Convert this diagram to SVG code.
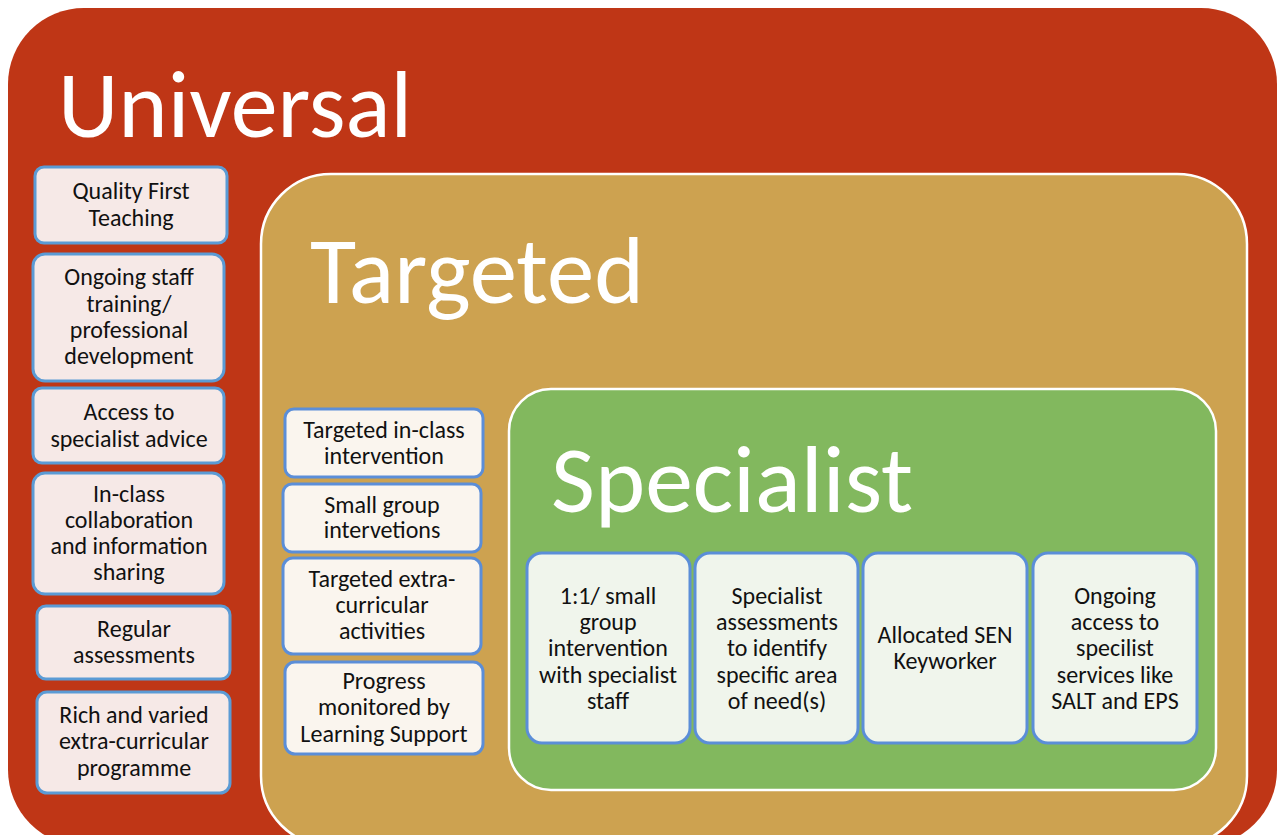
<svg xmlns="http://www.w3.org/2000/svg" width="1285" height="835" viewBox="0 0 1285 835">
  <style>
    .title { font-family: Carlito, Lato, "Open Sans", sans-serif; font-size: 94px; fill: #ffffff; }
    .lbl { font-family: Carlito, "Noto Sans", "Open Sans", sans-serif; font-size: 24px; fill: #111111; text-anchor: middle; }
    .ubox { fill: #F6E9E7; stroke: #5B9BD5; stroke-width: 3; }
    .tbox { fill: #FAF5EE; stroke: #5B8ED8; stroke-width: 3; }
    .sbox { fill: #F0F5EC; stroke: #5B8ED8; stroke-width: 3; }
  </style>

  <!-- Universal tier -->
  <g id="universal">
    <rect x="8" y="8" width="1269" height="838" rx="76" fill="#BF3616"/>
    <text class="title" x="58" y="137" textLength="354" lengthAdjust="spacingAndGlyphs">Universal</text>
  </g>

  <g id="u-quality-first">
    <rect class="ubox" x="35" y="167" width="192" height="76" rx="9"/>
    <text class="lbl"><tspan x="131" y="199">Quality First</tspan><tspan x="131" y="226">Teaching</tspan></text>
  </g>
  <g id="u-staff-training">
    <rect class="ubox" x="33" y="254" width="191" height="127" rx="12"/>
    <text class="lbl"><tspan x="129" y="285">Ongoing staff</tspan><tspan x="129" y="312">training/</tspan><tspan x="129" y="338">professional</tspan><tspan x="129" y="364">development</tspan></text>
  </g>
  <g id="u-specialist-advice">
    <rect class="ubox" x="33" y="388" width="191" height="75" rx="9"/>
    <text class="lbl"><tspan x="129" y="420">Access to</tspan><tspan x="129" y="447">specialist advice</tspan></text>
  </g>
  <g id="u-collaboration">
    <rect class="ubox" x="33" y="473" width="191" height="121" rx="12"/>
    <text class="lbl"><tspan x="129" y="502">In-class</tspan><tspan x="129" y="528">collaboration</tspan><tspan x="129" y="554">and information</tspan><tspan x="129" y="580">sharing</tspan></text>
  </g>
  <g id="u-assessments">
    <rect class="ubox" x="37" y="606" width="193" height="73" rx="9"/>
    <text class="lbl"><tspan x="134" y="637">Regular</tspan><tspan x="134" y="663">assessments</tspan></text>
  </g>
  <g id="u-extra-curricular">
    <rect class="ubox" x="37" y="692" width="193" height="101" rx="10"/>
    <text class="lbl"><tspan x="134" y="723">Rich and varied</tspan><tspan x="134" y="749">extra-curricular</tspan><tspan x="134" y="776">programme</tspan></text>
  </g>

  <!-- Targeted tier -->
  <g id="targeted">
    <rect x="261" y="174" width="986" height="672" rx="70" fill="#CDA250" stroke="#ffffff" stroke-width="2.5"/>
    <text class="title" x="310" y="303" textLength="334" lengthAdjust="spacingAndGlyphs">Targeted</text>
  </g>

  <g id="t-in-class">
    <rect class="tbox" x="285" y="409" width="198" height="68" rx="9"/>
    <text class="lbl"><tspan x="384" y="438">Targeted in-class</tspan><tspan x="384" y="464">intervention</tspan></text>
  </g>
  <g id="t-small-group">
    <rect class="tbox" x="283" y="484" width="198" height="68" rx="9"/>
    <text class="lbl"><tspan x="382" y="513">Small group</tspan><tspan x="382" y="538">intervetions</tspan></text>
  </g>
  <g id="t-activities">
    <rect class="tbox" x="283" y="558" width="198" height="96" rx="10"/>
    <text class="lbl"><tspan x="382" y="587">Targeted extra-</tspan><tspan x="382" y="613">curricular</tspan><tspan x="382" y="639">activities</tspan></text>
  </g>
  <g id="t-progress">
    <rect class="tbox" x="285" y="662" width="198" height="92" rx="10"/>
    <text class="lbl"><tspan x="384" y="689">Progress</tspan><tspan x="384" y="715">monitored by</tspan><tspan x="384" y="742">Learning Support</tspan></text>
  </g>

  <!-- Specialist tier -->
  <g id="specialist">
    <rect x="509" y="389" width="707" height="401" rx="42" fill="#82B85E" stroke="#ffffff" stroke-width="2.5"/>
    <text class="title" x="551" y="512" textLength="362" lengthAdjust="spacingAndGlyphs">Specialist</text>
  </g>

  <g id="s-one-to-one">
    <rect class="sbox" x="527" y="553" width="163" height="190" rx="15"/>
    <text class="lbl"><tspan x="608" y="604">1:1/ small</tspan><tspan x="608" y="630">group</tspan><tspan x="608" y="656">intervention</tspan><tspan x="608" y="683">with specialist</tspan><tspan x="608" y="709">staff</tspan></text>
  </g>
  <g id="s-assessments">
    <rect class="sbox" x="695" y="553" width="163" height="190" rx="15"/>
    <text class="lbl"><tspan x="777" y="604">Specialist</tspan><tspan x="777" y="630">assessments</tspan><tspan x="777" y="656">to identify</tspan><tspan x="777" y="683">specific area</tspan><tspan x="777" y="709">of need(s)</tspan></text>
  </g>
  <g id="s-keyworker">
    <rect class="sbox" x="863" y="553" width="164" height="190" rx="15"/>
    <text class="lbl"><tspan x="945" y="643">Allocated SEN</tspan><tspan x="945" y="669">Keyworker</tspan></text>
  </g>
  <g id="s-services">
    <rect class="sbox" x="1033" y="553" width="164" height="190" rx="15"/>
    <text class="lbl"><tspan x="1115" y="604">Ongoing</tspan><tspan x="1115" y="630">access to</tspan><tspan x="1115" y="656">specilist</tspan><tspan x="1115" y="683">services like</tspan><tspan x="1115" y="709">SALT and EPS</tspan></text>
  </g>

  <!-- no connectors in this layout -->
  <g id="connectors"/>
</svg>
